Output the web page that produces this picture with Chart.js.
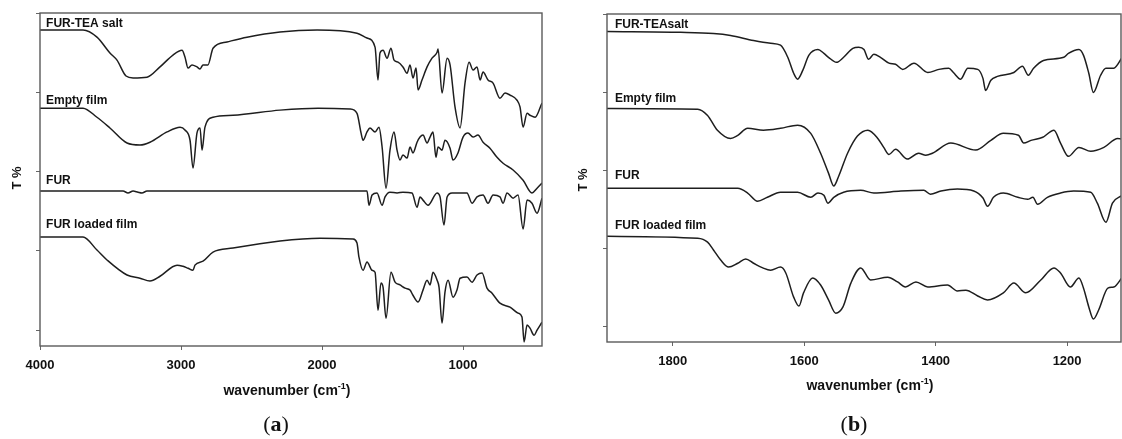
<!DOCTYPE html>
<html>
<head>
<meta charset="utf-8">
<script src="https://cdn.jsdelivr.net/npm/chart.js@4.4.1/dist/chart.umd.min.js"></script>
<style>
  body { margin: 0; background: #fff; width: 1122px; height: 439px; position: relative; overflow: hidden; }
  canvas { position: absolute; top: 0; }
  #chartA { left: 0; }
  #chartB { left: 570px; }
</style>
</head>
<body>
<canvas id="chartA" width="552" height="439"></canvas>
<canvas id="chartB" width="552" height="439"></canvas>
<script>
// Panel (a): full range spectra
const namesA = ['FUR-TEA salt', 'Empty film', 'FUR', 'FUR loaded film'];
const ticksA = [4000, 3000, 2000, 1000];

const aSaltX = [4000,3695,3596,3504,3454,3390,3340,3241,3149,3057,2993,2972,2950,2922,2887,2865,2844,2809,2773,2674,2532,2298,2035,1752,1681,1624,1603,1589,1567,1539,1511,1489,1461,1426,1397,1376,1355,1333,1319,1291,1255,1220,1184,1177,1149,1113,1092,1057,1021,986,957,929,901,879,858,823,787,738,702,667,617,596,574,546,525,489,440];
const aSaltY = [75.7,75.7,73.9,69.9,68.1,64.1,63.6,63.8,66.4,69.4,70.6,68.9,66.1,66.9,66.4,65.9,66.9,66.9,71.1,72.7,73.9,75.2,75.7,74.9,73.7,71.4,63.1,69.9,70.6,68.6,71.1,68.1,67.6,66.4,64.8,66.9,63.6,66.1,60.6,63.1,66.4,68.6,70.1,70.9,59.8,68.6,66.9,56.3,51.0,62.3,67.6,65.6,66.4,63.1,65.1,63.1,62.3,58.5,59.8,59.3,58.0,56.3,51.2,54.7,54.2,53.7,57.3];

const aEmptyX = [4000,3695,3596,3504,3383,3291,3220,3099,3007,2972,2936,2915,2887,2865,2851,2830,2773,2631,2298,2028,1801,1752,1723,1709,1681,1660,1624,1596,1574,1546,1518,1489,1468,1447,1426,1397,1376,1355,1326,1305,1284,1255,1234,1213,1192,1177,1149,1128,1092,1071,1036,1000,965,929,894,858,809,759,716,645,574,511,475,440];
const aEmptyY = [56.0,56.0,53.7,51.0,47.2,46.7,47.4,50.0,51.2,50.5,47.9,40.9,49.7,51.0,45.4,51.2,53.7,54.2,55.5,56.0,55.8,54.7,49.7,47.9,50.0,51.0,50.0,51.2,46.2,35.8,45.4,50.0,45.4,42.9,44.2,43.4,46.2,44.7,47.4,48.7,49.2,47.2,48.7,50.0,43.6,46.2,45.4,47.9,45.9,42.9,44.7,48.7,49.7,48.7,49.2,47.4,45.9,43.6,42.1,40.4,37.8,34.6,35.8,37.1];

const aFurX = [4000,3411,3376,3340,3305,3277,3241,2298,1681,1667,1645,1610,1574,1553,1518,1468,1426,1362,1326,1305,1284,1248,1184,1163,1135,1113,1078,1021,972,936,901,858,823,787,738,716,688,645,610,574,546,511,475,440];
const aFurY = [35.1,35.1,34.6,35.1,34.8,34.6,35.1,35.1,35.1,31.5,34.1,34.6,31.5,33.6,34.8,34.6,34.8,34.6,31.0,33.6,32.8,31.5,34.6,33.6,26.5,33.6,34.6,34.6,34.6,32.0,33.6,34.1,32.0,34.1,33.6,32.0,34.6,33.3,34.1,25.5,32.8,32.0,29.5,33.3];

const aLoadedX = [4000,3695,3596,3525,3383,3291,3220,3149,3028,2986,2950,2915,2901,2844,2773,2631,2298,2014,1780,1752,1738,1709,1681,1645,1624,1603,1582,1567,1546,1511,1482,1447,1411,1376,1355,1319,1284,1255,1234,1213,1184,1170,1149,1128,1106,1071,1043,1021,972,936,901,865,830,794,738,667,610,582,567,546,525,496,475,440];
const aLoadedY = [23.5,23.5,20.2,17.7,13.9,13.1,12.4,13.6,16.4,16.1,15.6,15.1,16.4,17.4,19.7,20.7,22.5,23.2,23.0,22.0,18.4,15.1,17.2,15.1,14.6,5.0,11.9,10.8,3.0,14.6,12.1,11.4,10.6,10.1,8.8,7.1,10.1,12.6,11.4,14.6,12.6,10.8,1.8,9.6,12.6,8.3,10.1,13.1,13.4,12.1,13.9,14.4,10.6,9.3,6.8,5.8,4.3,3.3,-3.0,1.3,0.5,-1.3,0,2.0];

// Panel (b): 1900 - 1120 cm-1 zoom
const namesB = ['FUR-TEAsalt', 'Empty film', 'FUR', 'FUR loaded film'];
const ticksB = [1800, 1600, 1400, 1200];

const bSaltX = [1900,1788,1738,1712,1677,1651,1636,1625,1616,1610,1602,1593,1579,1570,1563,1551,1540,1526,1517,1509,1502,1494,1484,1471,1461,1450,1433,1412,1395,1380,1373,1362,1351,1336,1328,1324,1316,1306,1281,1268,1259,1251,1236,1205,1198,1182,1175,1167,1160,1149,1141,1129,1116];
const bSaltY = [75.5,75.3,75.0,74.5,73.2,72.5,72.0,68.9,64.8,63.3,65.6,69.4,70.9,69.9,68.9,67.6,68.9,71.2,71.5,70.9,68.4,69.7,68.9,67.4,67.1,65.8,67.4,65.0,65.8,66.1,65.0,63.3,66.1,65.8,63.5,60.4,63.0,64.0,65.0,66.6,64.3,66.1,68.1,68.9,69.9,70.9,69.4,64.8,59.9,64.3,66.1,66.1,68.9];

const bEmptyX = [1900,1762,1747,1732,1712,1701,1686,1662,1636,1610,1590,1575,1563,1555,1548,1534,1519,1503,1488,1479,1471,1461,1443,1426,1415,1405,1377,1339,1316,1297,1274,1266,1255,1237,1220,1210,1198,1182,1164,1144,1123,1116];
const bEmptyY = [55.8,55.6,54.0,50.2,48.1,48.9,50.7,50.2,50.7,51.5,49.4,44.3,39.2,35.9,38.2,44.3,48.7,50.2,48.1,45.8,44.0,45.3,42.8,44.3,43.8,44.3,46.9,45.1,47.6,49.4,48.9,46.9,47.6,48.4,50.2,46.9,43.5,45.8,44.8,45.8,48.1,47.9];

const bFurX = [1900,1701,1686,1671,1656,1636,1610,1590,1579,1570,1564,1555,1540,1514,1494,1453,1418,1408,1392,1367,1342,1328,1321,1312,1297,1275,1260,1252,1245,1230,1210,1190,1164,1154,1141,1131,1116];
const bFurY = [35.3,35.3,34.1,32.0,33.0,34.3,34.3,33.0,34.1,33.5,31.5,33.0,34.3,34.8,34.1,34.6,34.8,33.8,34.6,35.1,34.6,32.8,30.7,33.0,34.1,33.0,32.5,33.0,31.2,33.0,34.1,34.6,34.3,31.5,26.6,31.5,33.5];

const bLoadedX = [1900,1762,1747,1738,1727,1715,1701,1689,1677,1663,1651,1636,1628,1616,1608,1601,1587,1575,1563,1552,1541,1529,1514,1499,1473,1458,1446,1430,1412,1382,1367,1354,1336,1321,1297,1281,1263,1240,1220,1210,1195,1182,1175,1167,1160,1152,1138,1129,1116];
const bLoadedY = [23.0,22.5,21.5,19.5,16.9,15.1,16.1,17.2,16.1,14.9,14.3,15.1,13.6,7.4,5.1,8.5,12.3,10.5,6.7,3.3,4.9,11.0,14.9,11.8,12.5,11.3,10.0,11.3,10.0,10.5,9.0,9.2,7.7,6.7,8.5,11.0,8.5,11.8,14.9,13.6,10.0,12.3,9.7,4.9,1.8,4.1,9.7,10.0,12.5];

const yTicks = [0, 20, 40, 60, 80];

const SANS = '"Liberation Sans", Arial, sans-serif';
const SERIF = '"Liberation Serif", "Times New Roman", serif';

function makeSet(xs, ys) {
    return {
        data: xs.map((x, i) => ({ x: x, y: ys[i] })),
        borderColor: '#1e1e1e',
        borderWidth: 1.5,
        pointRadius: 0,
        fill: false,
        cubicInterpolationMode: 'monotone'
    };
}

// frame, curve names, axis titles and panel letter
function decor(o) {
    return {
        id: 'decor',
        afterDraw(chart) {
            const ctx = chart.ctx, ca = chart.chartArea;
            const sx = chart.scales.x, sy = chart.scales.y;
            ctx.save();
            ctx.strokeStyle = '#5a5a5a';
            ctx.lineWidth = 1.4;
            ctx.strokeRect(ca.left, ca.top, ca.right - ca.left, ca.bottom - ca.top);

            ctx.fillStyle = '#111';
            ctx.font = 'bold 12px ' + SANS;
            ctx.textAlign = 'left';
            ctx.textBaseline = 'alphabetic';
            o.names.forEach((n, i) => {
                ctx.fillText(n, sx.getPixelForValue(o.nameX), sy.getPixelForValue(o.nameY[i]));
            });

            // T %
            ctx.save();
            ctx.font = 'bold 13px ' + SANS;
            ctx.translate(o.tPos[0], o.tPos[1]);
            ctx.rotate(-Math.PI / 2);
            ctx.textAlign = 'center';
            ctx.textBaseline = 'middle';
            ctx.fillText('T %', 0, 0);
            ctx.restore();

            // wavenumber (cm-1) with superscript
            const main = 'bold 14px ' + SANS, sup = 'bold 9px ' + SANS;
            ctx.font = main;
            const w1 = ctx.measureText('wavenumber (cm').width;
            const w3 = ctx.measureText(')').width;
            ctx.font = sup;
            const w2 = ctx.measureText('-1').width;
            let x = o.titlePos[0] - (w1 + w2 + w3) / 2;
            const y = o.titlePos[1];
            ctx.font = main;
            ctx.fillText('wavenumber (cm', x, y);
            ctx.font = sup;
            ctx.fillText('-1', x + w1, y - 6);
            ctx.font = main;
            ctx.fillText(')', x + w1 + w2, y);

            // panel letter
            const pN = '22px ' + SERIF, pB = 'bold 22px ' + SERIF;
            ctx.font = pN;
            const p1 = ctx.measureText('(').width;
            ctx.font = pB;
            const p2 = ctx.measureText(o.letter).width;
            x = o.letterPos[0] - (p1 * 2 + p2) / 2;
            ctx.font = pN;
            ctx.fillText('(', x, o.letterPos[1]);
            ctx.font = pB;
            ctx.fillText(o.letter, x + p1, o.letterPos[1]);
            ctx.font = pN;
            ctx.fillText(')', x + p1 + p2, o.letterPos[1]);
            ctx.restore();
        }
    };
}

function makeChart(id, sets, xMin, xMax, yMin, xTicks, pad, xH, yW, deco) {
    return new Chart(document.getElementById(id), {
        type: 'line',
        data: { datasets: sets },
        options: {
            responsive: false,
            animation: false,
            events: [],
            layout: { padding: pad },
            plugins: { legend: { display: false }, tooltip: { enabled: false } },
            scales: {
                x: {
                    type: 'linear', reverse: true, min: xMin, max: xMax,
                    afterBuildTicks: s => { s.ticks = xTicks.map(v => ({ value: v })); },
                    afterFit: s => { s.height = xH; },
                    grid: { drawOnChartArea: false, tickLength: 4, color: '#666' },
                    border: { display: false },
                    ticks: { color: '#111', padding: 8, maxRotation: 0, autoSkip: false,
                             callback: v => String(v),
                             font: { family: SANS, size: 13, weight: 'bold' } }
                },
                y: {
                    min: yMin, max: 80,
                    afterBuildTicks: s => { s.ticks = yTicks.map(v => ({ value: v })); },
                    afterFit: s => { s.width = yW; },
                    grid: { drawOnChartArea: false, tickLength: 4, color: '#666' },
                    border: { display: false },
                    ticks: { display: false }
                }
            }
        },
        plugins: [decor(deco)]
    });
}

makeChart('chartA',
    [makeSet(aSaltX, aSaltY), makeSet(aEmptyX, aEmptyY), makeSet(aFurX, aFurY), makeSet(aLoadedX, aLoadedY)],
    440, 4000, -4, ticksA,
    { left: 0, top: 13, right: 10, bottom: 0 }, 93, 40,
    { names: namesA, nameX: 3957, nameY: [76.4, 57.0, 36.8, 25.7],
      tPos: [17, 178], titlePos: [287, 395], letter: 'a', letterPos: [276, 431] });

makeChart('chartB',
    [makeSet(bSaltX, bSaltY), makeSet(bEmptyX, bEmptyY), makeSet(bFurX, bFurY), makeSet(bLoadedX, bLoadedY)],
    1118, 1900, -4.1, ticksB,
    { left: 0, top: 14, right: 1, bottom: 0 }, 97, 37,
    { names: namesB, nameX: 1888, nameY: [76.3, 57.4, 37.6, 24.8],
      tPos: [13, 180], titlePos: [300, 390], letter: 'b', letterPos: [284, 431] });
</script>
</body>
</html>
